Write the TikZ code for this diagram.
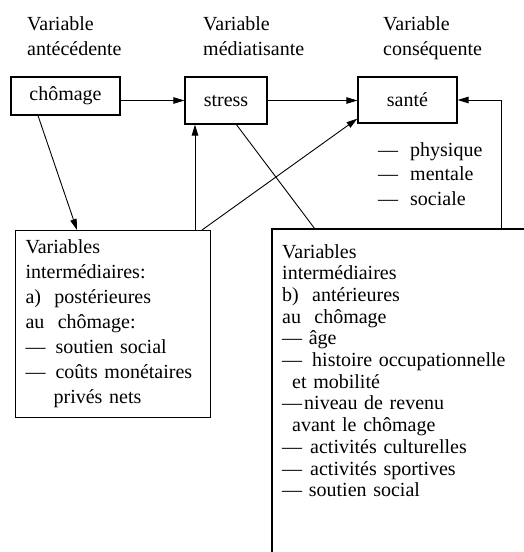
\documentclass[tikz,border=0pt]{standalone}
\usepackage{fontspec}
\setmainfont{Liberation Serif}
\usetikzlibrary{arrows.meta,positioning,calc}

\begin{document}
\begin{tikzpicture}[x=1pt,y=-1pt,every node/.style={font=\fontsize{20}{25}\selectfont},
  varbox/.style={draw,line width=1.2pt,inner sep=0pt},
  heading/.style={anchor=north west,align=left,inner sep=0pt},
  arr/.style={line width=0.9pt,-{Triangle[length=11pt,width=6.5pt]}},
  lnk/.style={line width=0.9pt}]
  \useasboundingbox (0,0) rectangle (524,552);
  % column headings
  \node[heading] (hant) at (27,16) {Variable\\antécédente};
  \node[heading] (hmed) at (203,16) {Variable\\médiatisante};
  \node[heading] (hcon) at (383,16) {Variable\\conséquente};
  % the three variables
  \node[varbox,minimum width=109pt,minimum height=38pt] (chomage) at (65.5,96) {chômage};
  \node[varbox,minimum width=82pt,minimum height=47pt] (stress) at (226,100.5) {stress};
  \node[varbox,minimum width=99pt,minimum height=46pt] (sante) at (407.5,100) {santé};
  \node[heading,font=\fontsize{20}{24.5}\selectfont] (dims) at (378,142)
    {---\hspace{12pt}physique\\---\hspace{12pt}mentale\\---\hspace{12pt}sociale};
  % intermediate variables a)
  \node[varbox,anchor=north west,minimum width=195pt,minimum height=187pt,
    text width=175pt,align=left,inner xsep=10pt] (postA) at (15,230)
    {Variables\\
     intermédiaires:\\
     a)\ \ postérieures\\
     au\ \ chômage:\\
     ---\hspace{10pt}soutien social\\
     ---\hspace{10pt}coûts monétaires\\
     \hspace*{28pt}privés nets};
  % intermediate variables b) (box open at right and bottom)
  \node[anchor=north west,align=left,text width=232pt,inner xsep=10pt,inner ysep=15pt,
    font=\fontsize{20}{21.7}\selectfont] (antB) at (272,229)
    {Variables\\
     intermédiaires\\
     b)\ \ antérieures\\
     au\ \ chômage\\
     --- âge\\
     ---\hspace{10pt}histoire occupationnelle\\
     \hspace*{10pt}et mobilité\\
     ---\hspace{2pt}niveau de revenu\\
     \hspace*{10pt}avant le chômage\\
     ---\hspace{8pt}activités culturelles\\
     ---\hspace{8pt}activités sportives\\
     --- soutien social};
  \draw[line width=1.2pt] (antB.north west |- 0,552) -- (antB.north west) -- (antB.north west -| 524,0);
  % main chain
  \draw[arr] (chomage.east |- stress) -- (stress.west);
  \draw[arr] (stress.east) -- (stress.east -| sante.west);
  % feedback into health
  \coordinate (loop) at (501,229);
  \draw[arr] (loop) |- (sante.east);
  % links with the intermediate variables
  \draw[arr] ([xshift=-27.5pt]chomage.south) -- ([xshift=62pt]postA.north west);
  \draw[arr] ([xshift=180pt]postA.north west) -- ([xshift=180pt]postA.north west |- stress.south);
  \draw[arr] ([xshift=187pt]postA.north west) -- ([yshift=5pt]sante.south west);
  \draw[lnk] ([xshift=52pt]stress.south west) -- ([xshift=43pt]antB.north west);
\end{tikzpicture}
\end{document}
